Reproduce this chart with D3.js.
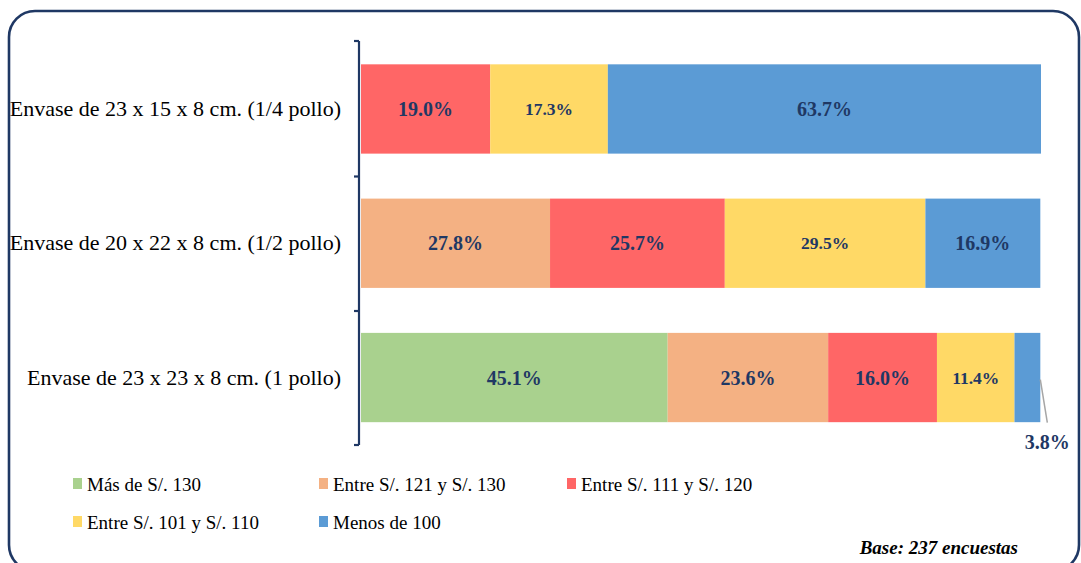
<!DOCTYPE html>
<html>
<head>
<meta charset="utf-8">
<script src="https://cdn.jsdelivr.net/npm/d3@7"></script>
<style>
  html, body { margin: 0; padding: 0; background: #fff; }
  svg { display: block; }
</style>
</head>
<body>
<svg id="chart" width="1081" height="563"></svg>
<script>
// Package sizes (top to bottom)
const categories = [
  "Envase de 23 x 15 x 8 cm. (1/4 pollo)",
  "Envase de 20 x 22 x 8 cm. (1/2 pollo)",
  "Envase de 23 x 23 x 8 cm. (1 pollo)"
];

// Price ranges, stacked left to right
const seriesNames = [
  "Más de S/. 130",
  "Entre S/. 121 y S/. 130",
  "Entre S/. 111 y S/. 120",
  "Entre S/. 101 y S/. 110",
  "Menos de 100"
];

// Percentage of respondents per price range, one array per range (same order as categories)
const masDe130   = [0.0, 0.0, 45.1];
const entre121   = [0.0, 27.8, 23.6];
const entre111   = [19.0, 25.7, 16.0];
const entre101   = [17.3, 29.5, 11.4];
const menosDe100 = [63.7, 16.9, 3.8];

const seriesColors = ["#A9D18E", "#F4B183", "#FF6666", "#FFD966", "#5B9BD5"];

const baseNote = "Base: 237 encuestas";

// ---------------------------------------------------------------
const svg = d3.select("#chart");
const navy = "#1F3864";
const FONT = "'Liberation Serif', 'Times New Roman', serif";

// Rounded frame around the whole figure
svg.append("rect")
  .attr("x", 9).attr("y", 11)
  .attr("width", 1070).attr("height", 560)
  .attr("rx", 26).attr("ry", 26)
  .attr("fill", "none")
  .attr("stroke", navy)
  .attr("stroke-width", 2.6);

const table = categories.map((c, i) => ({
  cat: c,
  [seriesNames[0]]: masDe130[i],
  [seriesNames[1]]: entre121[i],
  [seriesNames[2]]: entre111[i],
  [seriesNames[3]]: entre101[i],
  [seriesNames[4]]: menosDe100[i]
}));

const stacked = d3.stack().keys(seriesNames)(table);

const x = d3.scaleLinear().domain([0, 100]).range([361, 1041]);
const y = d3.scaleBand().domain(categories).range([41.5, 445]).paddingInner(0.335).paddingOuter(0.17);

const color = d3.scaleOrdinal().domain(seriesNames).range(seriesColors);

// Bars
const layers = svg.append("g").selectAll("g")
  .data(stacked)
  .join("g")
  .attr("fill", d => color(d.key));

layers.selectAll("rect")
  .data(d => d.map(p => ({ key: d.key, p })))
  .join("rect")
  .filter(d => d.p[1] - d.p[0] > 0)
  .attr("x", d => x(d.p[0]))
  .attr("y", d => y(d.p.data.cat))
  .attr("width", d => x(d.p[1]) - x(d.p[0]))
  .attr("height", y.bandwidth());

// Value labels
const labels = [];
stacked.forEach((layer, si) => {
  layer.forEach(p => {
    const v = p[1] - p[0];
    if (v > 0) labels.push({ si, key: layer.key, v, p });
  });
});

labels.forEach(d => {
  const small = d.si === 3;
  const w = x(d.p[1]) - x(d.p[0]);
  const cy = y(d.p.data.cat) + y.bandwidth() / 2;
  if (w > 40) {
    svg.append("text")
      .attr("x", (x(d.p[0]) + x(d.p[1])) / 2)
      .attr("y", cy)
      .attr("dy", "0.35em")
      .attr("text-anchor", "middle")
      .style("font-family", FONT)
      .style("font-weight", "bold")
      .style("font-size", (small ? 17.5 : 20) + "px")
      .attr("fill", navy)
      .text(d3.format(".1f")(d.v) + "%");
  } else {
    // Narrow segment: label placed below with a leader line
    const bx = x(d.p[1]);
    svg.append("line")
      .attr("x1", bx).attr("y1", cy + 2)
      .attr("x2", bx + 7).attr("y2", cy + 45)
      .attr("stroke", "#A6A6A6")
      .attr("stroke-width", 1.5);
    svg.append("text")
      .attr("x", bx + 7)
      .attr("y", cy + 64)
      .attr("dy", "0.35em")
      .attr("text-anchor", "middle")
      .style("font-family", FONT)
      .style("font-weight", "bold")
      .style("font-size", "20px")
      .attr("fill", navy)
      .text(d3.format(".1f")(d.v) + "%");
  }
});

// Category axis
const axis = d3.axisLeft(y).tickSize(0).tickPadding(18);
const ag = svg.append("g").attr("transform", "translate(359,0)").call(axis);
ag.select(".domain").attr("stroke", navy).attr("stroke-width", 2.2)
  .attr("d", "M0," + 41 + "V" + 445);
ag.selectAll(".tick text")
  .style("font-family", FONT)
  .style("font-size", "22px")
  .attr("fill", "#000");

// Band boundary tick marks
const bounds = [41, 176.5, 311, 445];
ag.selectAll(".bound")
  .data(bounds)
  .join("line")
  .attr("class", "bound")
  .attr("x1", -5).attr("x2", 0)
  .attr("y1", d => d).attr("y2", d => d)
  .attr("stroke", navy).attr("stroke-width", 2.2);

// Legend
const legendPos = [
  [73, 484], [319, 484], [567, 484],
  [73, 522], [319, 522]
];
const lg = svg.append("g");
seriesNames.forEach((name, i) => {
  const [lx, ly] = legendPos[i];
  lg.append("rect")
    .attr("x", lx).attr("y", ly - 6)
    .attr("width", 9).attr("height", 11)
    .attr("fill", color(name));
  lg.append("text")
    .attr("x", lx + 14).attr("y", ly)
    .attr("dy", "0.35em")
    .style("font-family", FONT)
    .style("font-size", "19px")
    .attr("fill", "#000")
    .text(name);
});

// Sample size note
svg.append("text")
  .attr("x", 1018).attr("y", 547)
  .attr("dy", "0.35em")
  .attr("text-anchor", "end")
  .style("font-family", FONT)
  .style("font-weight", "bold")
  .style("font-style", "italic")
  .style("font-size", "19px")
  .attr("fill", "#000")
  .text(baseNote);
</script>
</body>
</html>
